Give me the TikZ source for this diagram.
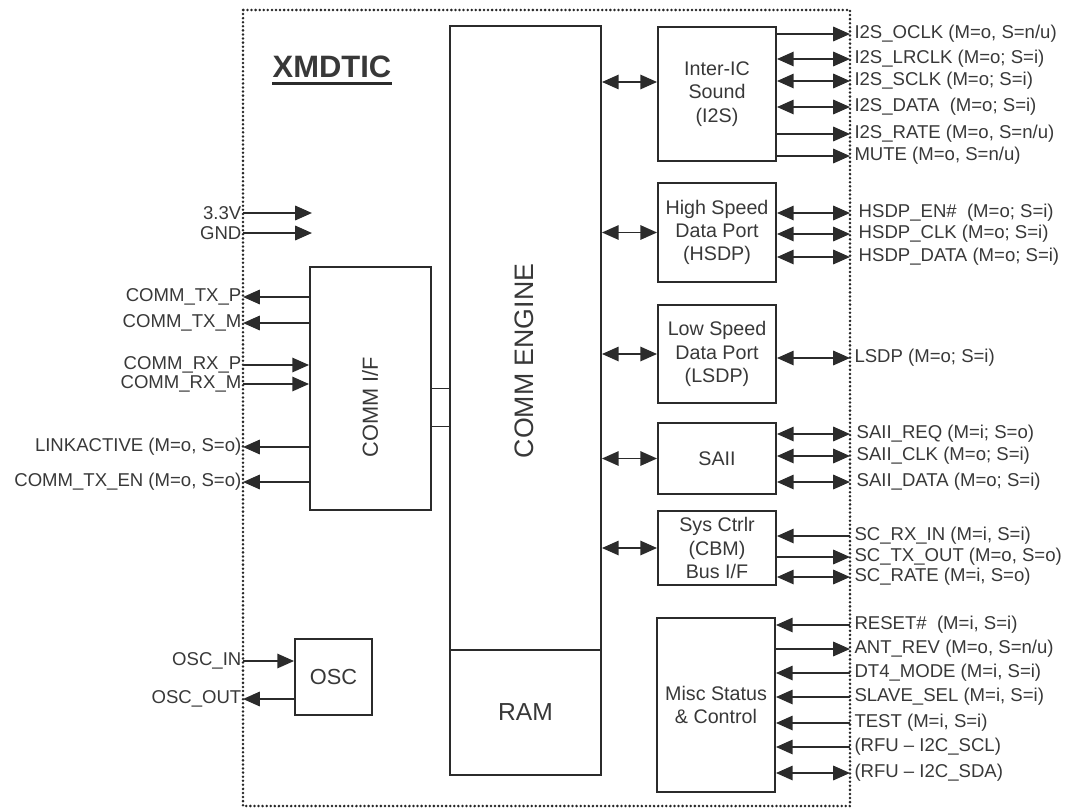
\documentclass[tikz,border=0pt]{standalone}
\usepackage{fontspec}
\setmainfont{Liberation Sans}
\usetikzlibrary{arrows.meta, positioning, calc}
\definecolor{WireGray}{HTML}{2B2B2B}
\definecolor{InkGray}{HTML}{383838}

\begin{document}
\begin{tikzpicture}[
    x=0.025cm, y=-0.025cm,
    every node/.style={font=\fontsize{13.2}{15}\selectfont, text=InkGray},
    block/.style={rectangle, draw=WireGray, line width=1.3pt, minimum width=2.95cm, inner sep=0pt, align=center, font=\fontsize{14}{16.5}\selectfont},
    pinR/.style={anchor=west, inner xsep=3pt, inner ysep=0pt},
    pinL/.style={anchor=east, inner xsep=1pt, inner ysep=0pt},
    arrow/.style={-{Triangle[length=4.2mm, width=3.6mm]}, line width=1.4pt, draw=WireGray},
    biarrow/.style={{Triangle[length=4.2mm, width=3.6mm]}-{Triangle[length=4.2mm, width=3.6mm]}, line width=1.4pt, draw=WireGray},
    wire/.style={line width=1.3pt, draw=WireGray},
    chip/.style={draw=black!85, line width=2pt, line cap=round, dash pattern=on 0pt off 2.9pt}
  ]
    \useasboundingbox (0,0) rectangle (1069,809);
    \draw[chip] (243,10) rectangle (850,806);

    % title
    \node[font=\fontsize{22}{26}\selectfont\bfseries, inner sep=0pt, anchor=base] (title) at (332,77) {XMDTIC};
    \draw[line width=2.4pt, draw=WireGray] ([yshift=-1.6mm]title.base west) -- ([yshift=-1.6mm]title.base east);

    % core blocks
    \node[block, minimum width=3.775cm, minimum height=15.6cm] (engine) at (525.5,338) {};
    \node[rotate=90, font=\fontsize{19}{22}\selectfont] (enginelbl) at (524,361) {COMM ENGINE};
    \node[block, minimum width=3.775cm, minimum height=3.125cm, font=\fontsize{17.5}{20}\selectfont] (ram) at (525.5,712.5) {RAM};
    \node[block, minimum width=3.025cm, minimum height=6.075cm] (commif) at (370.5,388.5) {};
    \node[rotate=90, font=\fontsize{15.5}{18}\selectfont] (commiflbl) at (370,407) {COMM I/F};
    \node[block, minimum width=1.925cm, minimum height=1.9cm, font=\fontsize{15.5}{18}\selectfont] (osc) at (333.5,677) {OSC};

    % peripheral blocks
    \node[block, minimum height=3.35cm] (i2s) at (717,94) {Inter-IC\\Sound\\(I2S)};
    \node[block, minimum height=2.475cm] (hsdp) at (717,232.5) {High Speed\\Data Port\\(HSDP)};
    \node[block, minimum height=2.45cm] (lsdp) at (717,354) {Low Speed\\Data Port\\(LSDP)};
    \node[block, minimum height=1.775cm] (saii) at (717,458.5) {SAII};
    \node[block, minimum height=1.85cm] (sysc) at (717,548) {Sys Ctrlr\\(CBM)\\Bus I/F};
    \node[block, minimum height=4.35cm] (misc) at (716,705) {Misc Status\\\& Control};

    % engine links
    \coordinate (cif2) at ([yshift=-9.5mm]commif.east);
    \draw[wire] (commif.east) -- (commif.east -| engine.west);
    \draw[wire] (cif2) -- (cif2 -| engine.west);
    \coordinate (i2sin) at ([yshift=3mm]i2s.west);
    \draw[biarrow] (engine.east |- i2sin) -- (i2sin);
    \draw[biarrow] (engine.east |- hsdp.west) -- (hsdp.west);
    \draw[biarrow] (engine.east |- lsdp.west) -- (lsdp.west);
    \draw[biarrow] (engine.east |- saii.west) -- (saii.west);
    \draw[biarrow] (engine.east |- sysc.west) -- (sysc.west);

    % left side pins
    \node[pinL] (vdd) at (243,213) {3.3V};
    \node[pinL] (gnd) at (243,233) {GND};
    \coordinate (vddend) at (312,213);
    \coordinate (gndend) at (312,233);
    \draw[arrow] (vdd.east) -- (vddend);
    \draw[arrow] (gnd.east) -- (gndend);

    \node[pinL] (txp) at (243,297) {COMM\_TX\_P};
    \node[pinL] (txm) at (243,323) {COMM\_TX\_M};
    \node[pinL] (rxp) at (243,365) {COMM\_RX\_P};
    \node[pinL] (rxm) at (243,384) {COMM\_RX\_M};
    \node[pinL] (linkact) at (243,447) {LINKACTIVE (M=o, S=o)};
    \node[pinL] (txen) at (243,482) {COMM\_TX\_EN (M=o, S=o)};
    \draw[arrow] (commif.west |- txp.east) -- (txp.east);
    \draw[arrow] (commif.west |- txm.east) -- (txm.east);
    \draw[arrow] (rxp.east) -- (commif.west |- rxp.east);
    \draw[arrow] (rxm.east) -- (commif.west |- rxm.east);
    \draw[arrow] (commif.west |- linkact.east) -- (linkact.east);
    \draw[arrow] (commif.west |- txen.east) -- (txen.east);

    \node[pinL] (oscin) at (243,661) {OSC\_IN};
    \node[pinL] (oscout) at (243,699) {OSC\_OUT};
    \draw[arrow] (oscin.east) -- (osc.west |- oscin.east);
    \draw[arrow] (osc.west |- oscout.east) -- (oscout.east);

    % I2S pins
    \node[pinR] (oclk) at (850,34) {I2S\_OCLK (M=o, S=n/u)};
    \node[pinR] (lrclk) at (850,59) {I2S\_LRCLK (M=o; S=i)};
    \node[pinR] (sclk) at (850,81) {I2S\_SCLK (M=o; S=i)};
    \node[pinR] (sdata) at (850,107) {I2S\_DATA\ \ (M=o; S=i)};
    \node[pinR] (srate) at (850,134) {I2S\_RATE (M=o, S=n/u)};
    \node[pinR] (mute) at (850,156) {MUTE (M=o, S=n/u)};
    \draw[arrow] (i2s.east |- oclk.west) -- (oclk.west);
    \draw[biarrow] (i2s.east |- lrclk.west) -- (lrclk.west);
    \draw[biarrow] (i2s.east |- sclk.west) -- (sclk.west);
    \draw[biarrow] (i2s.east |- sdata.west) -- (sdata.west);
    \draw[arrow] (i2s.east |- srate.west) -- (srate.west);
    \draw[arrow] (i2s.east |- mute.west) -- (mute.west);

    % HSDP and LSDP pins
    \node[pinR, inner xsep=6pt] (hsen) at (850,213) {HSDP\_EN\#\ \ (M=o; S=i)};
    \node[pinR, inner xsep=6pt] (hsclk) at (850,234) {HSDP\_CLK (M=o; S=i)};
    \node[pinR, inner xsep=6pt] (hsdata) at (850,257) {HSDP\_DATA (M=o; S=i)};
    \draw[biarrow] (hsdp.east |- hsen.west) -- (hsen.west);
    \draw[biarrow] (hsdp.east |- hsclk.west) -- (hsclk.west);
    \draw[biarrow] (hsdp.east |- hsdata.west) -- (hsdata.west);
    \node[pinR] (ls) at (850,358) {LSDP (M=o; S=i)};
    \draw[biarrow] (lsdp.east |- ls.west) -- (ls.west);

    % SAII pins
    \node[pinR, inner xsep=4.5pt] (sreq) at (850,434) {SAII\_REQ (M=i; S=o)};
    \node[pinR, inner xsep=4.5pt] (sclk2) at (850,456) {SAII\_CLK (M=o; S=i)};
    \node[pinR, inner xsep=4.5pt] (sdat2) at (850,482) {SAII\_DATA (M=o; S=i)};
    \draw[biarrow] (saii.east |- sreq.west) -- (sreq.west);
    \draw[biarrow] (saii.east |- sclk2.west) -- (sclk2.west);
    \draw[biarrow] (saii.east |- sdat2.west) -- (sdat2.west);

    % system controller pins
    \node[pinR] (rxin) at (850,536) {SC\_RX\_IN (M=i, S=i)};
    \node[pinR] (txout) at (850,557) {SC\_TX\_OUT (M=o, S=o)};
    \node[pinR] (scrate) at (850,577) {SC\_RATE (M=i, S=o)};
    \draw[arrow] (rxin.west) -- (sysc.east |- rxin.west);
    \draw[arrow] (sysc.east |- txout.west) -- (txout.west);
    \draw[biarrow] (sysc.east |- scrate.west) -- (scrate.west);

    % misc pins
    \node[pinR] (reset) at (850,625) {RESET\#\ \ (M=i, S=i)};
    \node[pinR] (antrev) at (850,649) {ANT\_REV (M=o, S=n/u)};
    \node[pinR] (dtmode) at (850,673) {DT4\_MODE (M=i, S=i)};
    \node[pinR] (slave) at (850,697) {SLAVE\_SEL (M=i, S=i)};
    \node[pinR] (test) at (850,723) {TEST (M=i, S=i)};
    \node[pinR] (scl) at (850,747) {(RFU – I2C\_SCL)};
    \node[pinR] (sda) at (850,773) {(RFU – I2C\_SDA)};
    \draw[arrow] (reset.west) -- (misc.east |- reset.west);
    \draw[arrow] (misc.east |- antrev.west) -- (antrev.west);
    \draw[arrow] (dtmode.west) -- (misc.east |- dtmode.west);
    \draw[arrow] (slave.west) -- (misc.east |- slave.west);
    \draw[arrow] (test.west) -- (misc.east |- test.west);
    \draw[arrow] (scl.west) -- (misc.east |- scl.west);
    \draw[biarrow] (misc.east |- sda.west) -- (sda.west);
  \end{tikzpicture}
\end{document}
